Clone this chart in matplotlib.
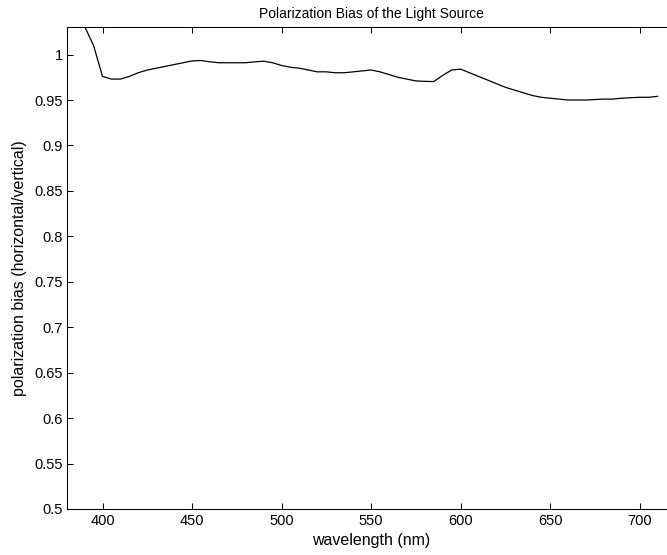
import matplotlib
matplotlib.use("Agg")
import matplotlib.pyplot as plt

wavelength = [390, 395, 400, 405, 410, 415, 420, 425, 430, 435, 440, 445, 450, 455,
              460, 465, 470, 475, 480, 485, 490, 495, 500, 505, 510, 515, 520, 525,
              530, 535, 540, 545, 550, 555, 560, 565, 570, 575, 580, 585, 590, 595,
              600, 605, 610, 615, 620, 625, 630, 635, 640, 645, 650, 655, 660, 665,
              670, 675, 680, 685, 690, 695, 700, 705, 710]
bias = [1.031, 1.010, 0.976, 0.973, 0.973, 0.976, 0.980, 0.983, 0.985, 0.987,
        0.989, 0.991, 0.993, 0.9935, 0.992, 0.991, 0.991, 0.991, 0.991, 0.992,
        0.9927, 0.991, 0.988, 0.986, 0.985, 0.983, 0.981, 0.981, 0.980, 0.980,
        0.981, 0.982, 0.983, 0.981, 0.978, 0.975, 0.973, 0.971, 0.9705, 0.9703,
        0.977, 0.983, 0.984, 0.980, 0.976, 0.972, 0.968, 0.964, 0.961, 0.958,
        0.955, 0.953, 0.952, 0.951, 0.950, 0.950, 0.950, 0.9505, 0.951, 0.951,
        0.952, 0.9525, 0.953, 0.953, 0.954]
xticks = [400, 450, 500, 550, 600, 650, 700]
yticks = [0.5, 0.55, 0.6, 0.65, 0.7, 0.75, 0.8, 0.85, 0.9, 0.95, 1]
ytick_labels = ["0.5", "0.55", "0.6", "0.65", "0.7", "0.75", "0.8", "0.85", "0.9", "0.95", "1"]

plt.rcParams['font.family'] = ['Liberation Sans', 'DejaVu Sans']
plt.rcParams['font.size'] = 10.5

W, H = 667, 555
fig = plt.figure(figsize=(W / 100, H / 100), dpi=100)
left, right, bottom, top = 66.7, 675.4, 509.0, 27.3
ax = fig.add_axes([left / W, (H - bottom) / H, (right - left) / W, (bottom - top) / H])
ax.plot(wavelength, bias, color='black', linewidth=0.9, clip_on=True)
ax.set_xlim(380, 720)
ax.set_ylim(0.5, 1.03)
ax.set_xticks(xticks)
ax.set_yticks(yticks)
ax.set_yticklabels(ytick_labels)
ax.tick_params(direction='in', length=4.3, width=0.75, top=True, right=True,
               labelsize=10.5, pad=3)
ax.tick_params(axis='x', pad=3.5)
for s in ax.spines.values():
    s.set_linewidth(0.75)
ax.set_title("Polarization Bias of the Light Source", fontsize=10, pad=7)
ax.set_xlabel("wavelength (nm)", fontsize=11.5, labelpad=4)
ax.set_ylabel("polarization bias (horizontal/vertical)", fontsize=11.5, labelpad=5)
fig.savefig("out.png", dpi=100)
